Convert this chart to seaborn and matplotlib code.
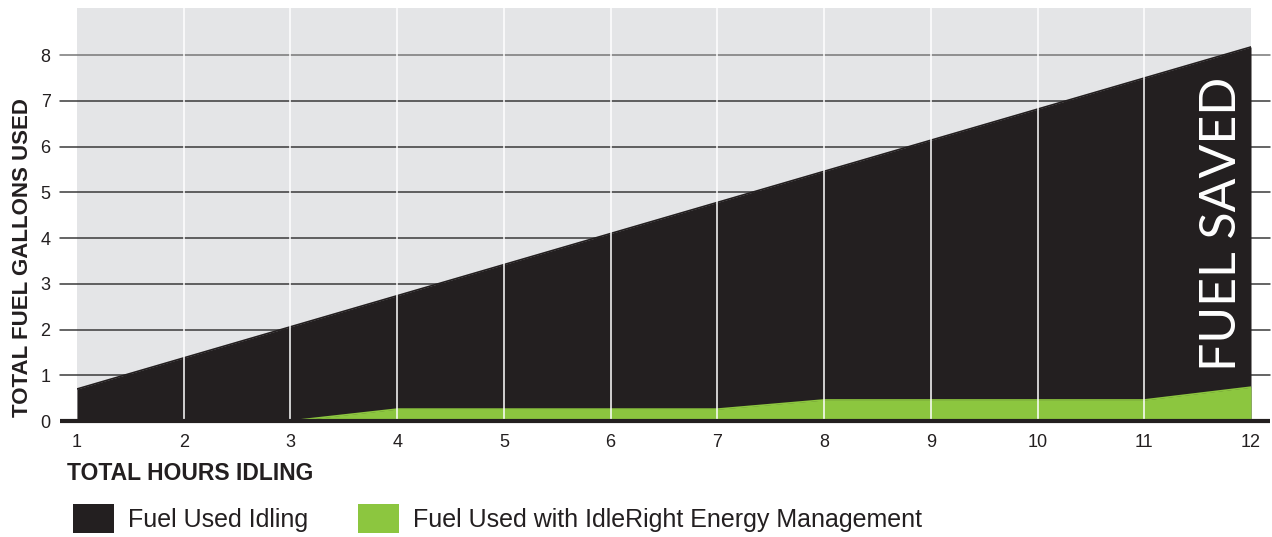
"""
Fuel used while idling vs. fuel used with IdleRight energy management.
"""

import numpy as np
import matplotlib.pyplot as plt
import seaborn as sns
from matplotlib.patches import Patch
from matplotlib.transforms import blended_transform_factory

hours = [1, 2, 3, 4, 5, 6, 7, 8, 9, 10, 11, 12]
fuel_idling = [0.70, 1.38, 2.06, 2.74, 3.42, 4.10, 4.78, 5.46, 6.14, 6.82, 7.50, 8.18]
fuel_idleright = [0.0, 0.0, 0.0, 0.26, 0.26, 0.26, 0.26, 0.46, 0.46, 0.46, 0.46, 0.74]
y_ticks = [0, 1, 2, 3, 4, 5, 6, 7, 8]

BLACK = "#231f20"
GREEN = "#8cc63f"
GRAY_BG = "#e4e5e7"

sns.set_theme(style="white")
plt.rcParams["font.family"] = ["Liberation Sans", "DejaVu Sans"]

fig = plt.figure(figsize=(12.72, 5.37), dpi=100)
ax = fig.add_axes([0.0605, 0.216, 0.923, 0.769])
ax.set_facecolor(GRAY_BG)

# horizontal guide lines run a bit past the plot on both sides
trans = blended_transform_factory(ax.transAxes, ax.transData)
for y in y_ticks[1:]:
    ax.plot([-0.0145, 1.016], [y, y], transform=trans, clip_on=False,
            color="#777777" if y == 8 else "#3a3a3a", lw=1.1, zorder=1)

ax.fill_between(hours, 0, fuel_idling, color=BLACK, lw=0, zorder=2)
sns.lineplot(x=hours, y=fuel_idling, color=BLACK, lw=1.2, ax=ax, zorder=2.5)
ax.fill_between(hours, 0, fuel_idleright, color=GREEN, lw=0, zorder=3)
sns.lineplot(x=hours, y=fuel_idleright, color=GREEN, lw=1.2, ax=ax, zorder=3.5)

# white vertical grid over the areas
ax.vlines(hours[1:-1], 0, 9.03, color="white", lw=1.1, zorder=4)

# heavy baseline
ax.plot([-0.0145, 1.016], [0, 0], transform=trans, clip_on=False,
        color=BLACK, lw=3, zorder=5, solid_capstyle="butt")

ax.set_xlim(1, 12)
ax.set_ylim(0, 9.03)
ax.set_xticks(hours)
ax.set_yticks(y_ticks)
ax.tick_params(axis="x", length=0, pad=9, labelsize=13, labelcolor=BLACK)
ax.tick_params(axis="y", length=0, pad=19, labelsize=13, labelcolor=BLACK)
for s in ax.spines.values():
    s.set_visible(False)

fig.text(0.053, 0.118, "TOTAL HOURS IDLING", fontsize=16.5, fontweight="bold",
         color=BLACK, ha="left", va="center",
         family=["Liberation Sans Narrow", "Liberation Sans", "DejaVu Sans"])
fig.text(0.0175, 0.52, "TOTAL FUEL GALLONS USED", fontsize=16, fontweight="bold",
         color=BLACK, ha="center", va="center", rotation=90,
         family=["Liberation Sans Narrow", "Liberation Sans", "DejaVu Sans"])

ax.text(11.73, 4.3, "FUEL SAVED", rotation=90, color="white", fontsize=36,
        fontweight="normal", ha="center", va="center", zorder=6,
        family=["Lato", "DejaVu Sans"])

handles = [Patch(facecolor=BLACK, edgecolor="none", label="Fuel Used Idling"),
           Patch(facecolor=GREEN, edgecolor="none",
                 label="Fuel Used with IdleRight Energy Management")]
fig.legend(handles=handles, loc="lower left", bbox_to_anchor=(0.040, -0.035),
           ncol=2, frameon=False, fontsize=18, handlelength=1.64,
           handleheight=1.4, handletextpad=0.56, columnspacing=1.96,
           labelcolor=BLACK)

fig.savefig("out.png", dpi=100)
